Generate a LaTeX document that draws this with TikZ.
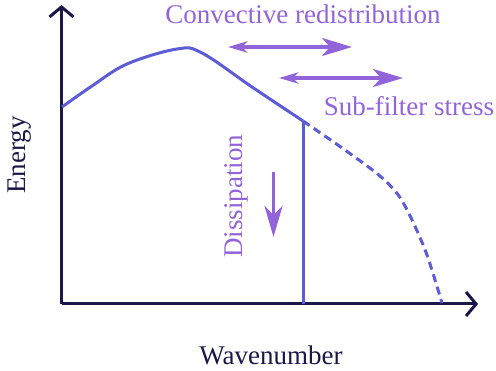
\documentclass[tikz,border=0pt]{standalone}
\usepackage{fontspec}
\setmainfont{Liberation Serif}
\usetikzlibrary{arrows.meta}
\definecolor{navy}{HTML}{1B1849}
\definecolor{curveblue}{HTML}{5C5CD6}
\definecolor{lilac}{HTML}{9263D9}
\tikzset{
  axisline/.style={draw=navy, line width=3pt, line join=miter, -{Straight Barb[length=10pt,width=24pt]}},
  spectrum/.style={draw=curveblue, line width=3pt},
  flux/.style={draw=lilac, line width=3.5pt},
  fluxboth/.style={flux, {Stealth[length=19pt,width=11pt,inset=5pt]}-{Stealth[length=30pt,width=18pt,inset=8pt]}},
  fluxone/.style={flux, -{Stealth[length=31pt,width=18pt,inset=9pt]}},
  lbl/.style={inner sep=0pt, font=\fontsize{27}{32}\selectfont, anchor=base},
}
\begin{document}
\begin{tikzpicture}[x=1pt,y=-1pt]
\useasboundingbox (0,0) rectangle (496,371);
% axes
\coordinate (O) at (61.5,304);
\coordinate (ytip) at (61.5,5);
\coordinate (xtip) at (478,304);
\draw[axisline] (ytip |- O) -- (ytip);
\draw[axisline] (O) -- (xtip);
% spectrum
\coordinate (c0) at (62,107);
\coordinate (cut) at (303,121);
\coordinate (cutbase) at (303,304);
\coordinate (dend) at (442,303);
\draw[spectrum] plot[smooth, tension=0.6] coordinates {(c0) (92,86) (127,64) (177,49) (202,53) (252,87) (cut)};
\draw[spectrum] (cut) -- (cutbase);
\draw[spectrum, dash pattern=on 8pt off 5pt] plot[smooth, tension=0.5] coordinates {(cut) (345,150) (380,176) (399,196) (413,222) (427,255) (dend)};
% fluxes
\coordinate (a1) at (228,47);
\coordinate (a2) at (352,47);
\coordinate (b1) at (279,78);
\coordinate (b2) at (403,78);
\coordinate (s1) at (273.5,172);
\coordinate (s2) at (273.5,237);
\draw[fluxboth] (a1) -- (a2);
\draw[fluxboth] (b1) -- (b2);
\draw[fluxone] (s1) -- (s2);
% labels
\node[lbl, text=lilac] (conv) at (303,24) {Convective redistribution};
\node[lbl, text=lilac] (sfs) at (409,116) {Sub-filter stress};
\node[lbl, text=lilac, rotate=90] (diss) at (242,196.5) {Dissipation};
\node[lbl, text=navy] (xl) at (271,365) {Wavenumber};
\node[lbl, text=navy, rotate=90] (yl) at (26,155) {Energy};
\end{tikzpicture}
\end{document}
